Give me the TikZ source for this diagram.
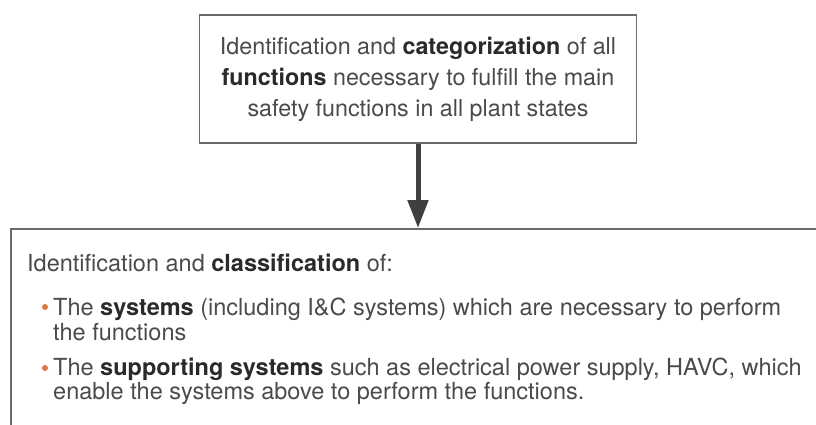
\documentclass[tikz,border=0pt]{standalone}
\usepackage{fontspec}
\setmainfont{TeX Gyre Heros}
\usepackage{xcolor}
\usetikzlibrary{positioning,arrows.meta}

\definecolor{txtgray}{HTML}{4A4A4A}
\definecolor{kwgray}{HTML}{2A2A2A}
\definecolor{linegray}{HTML}{6A6A6A}
\definecolor{arrowgray}{HTML}{3F3F3F}
\definecolor{dotorange}{HTML}{D97B45}
\newcommand{\kw}[1]{\textbf{\color{kwgray}#1}}

\begin{document}
\begin{tikzpicture}[x=1pt, y=-1pt,
    funcbox/.style={rectangle, draw=linegray, line width=1.5pt, minimum width=437pt, minimum height=128pt, align=center, text=txtgray, font=\fontsize{23.3}{31}\selectfont},
    sysbox/.style={rectangle, draw=linegray, line width=1.5pt, minimum width=830pt, minimum height=230pt, anchor=north west},
    txtline/.style={anchor=base west, inner sep=0pt, text=txtgray, font=\fontsize{23.5}{26}\selectfont},
    bulletdot/.style={circle, fill=dotorange, inner sep=0pt, minimum size=6pt},
    flowarrow/.style={draw=arrowgray, line width=5pt, -{Triangle[length=28pt, width=20pt]}}]
    \useasboundingbox (0,0) rectangle (816,424);
    \clip (0,0) rectangle (816,424);

    % Functions
    \node[funcbox] (func) at (418,79) {Identification and \kw{categorization} of all\\\kw{functions} necessary to fulfill the main\\safety functions in all plant states};

    % Systems
    \node[sysbox] (sys) at (10,228) {};
    \node[txtline] (head) at (27,271) {Identification and \kw{classification} of:};
    \node[txtline] (item1a) at (53,315) {The \kw{systems} (including I\&C systems) which are necessary to perform};
    \node[txtline] (item1b) at (53,340) {the functions};
    \node[txtline] (item2a) at (53,375) {The \kw{supporting systems} such as electrical power supply, HAVC, which};
    \node[txtline] (item2b) at (53,399) {enable the systems above to perform the functions.};
    \node[bulletdot] (dot1) at (45,307) {};
    \node[bulletdot] (dot2) at (45,368) {};

    % Arrow
    \draw[flowarrow] (func.south) -- (func.south |- sys.north);
\end{tikzpicture}
\end{document}
